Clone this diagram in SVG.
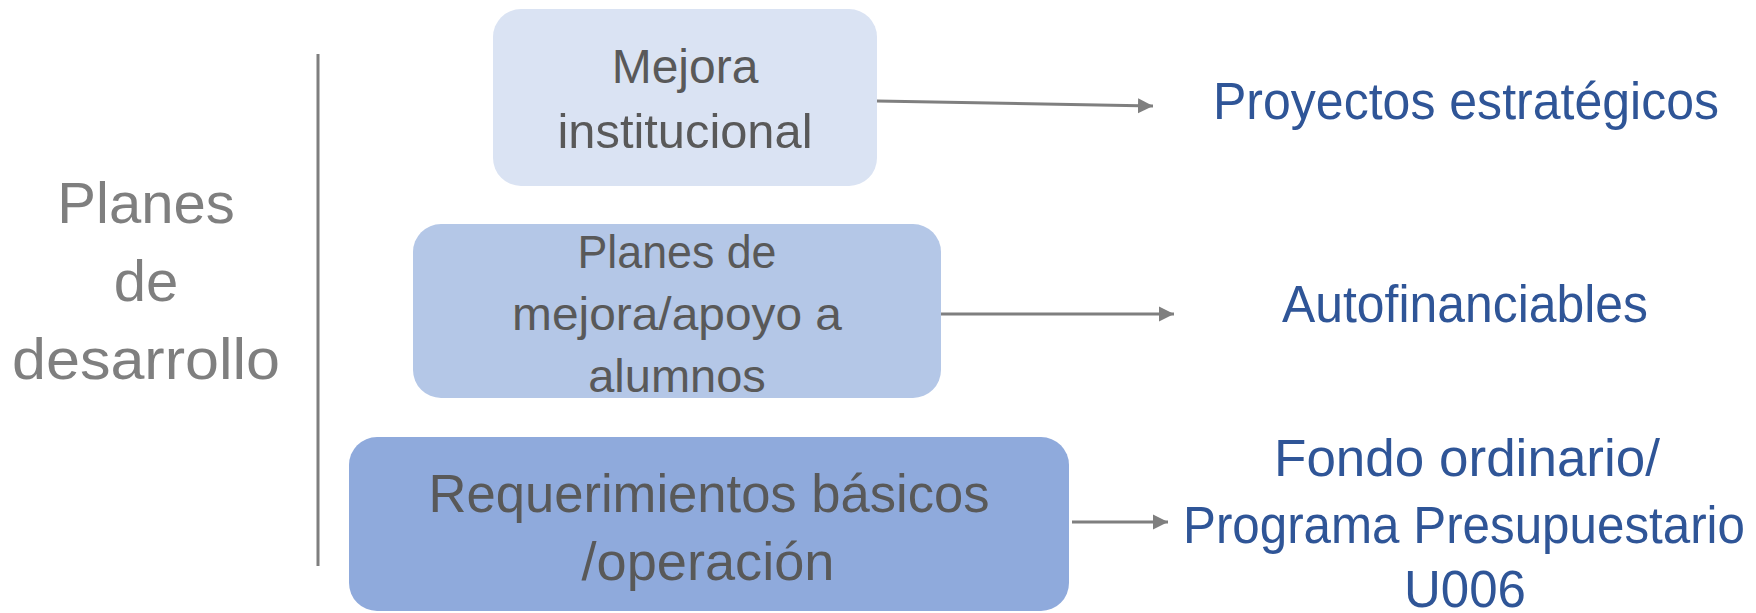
<svg xmlns="http://www.w3.org/2000/svg" width="1756" height="613" viewBox="0 0 1756 613">
<style>
.box-text{font-family:"Liberation Sans",Arial,sans-serif;fill:#595959;text-anchor:middle}
.blue{font-family:"Liberation Sans",Arial,sans-serif;fill:#2F5597;text-anchor:middle;font-size:51px}
.left{font-family:"Liberation Sans",Arial,sans-serif;fill:#7F7F7F;text-anchor:middle;font-size:58px}
.conn{stroke:#7F7F7F;stroke-width:3;fill:none}
</style>
<defs>
<marker id="arr" markerUnits="userSpaceOnUse" markerWidth="16" markerHeight="16" viewBox="0 0 16 16" refX="15" refY="8" orient="auto">
<path d="M0,0.5 L15,8 L0,15.5 Z" fill="#7F7F7F"/>
</marker>
</defs>
<rect width="1756" height="613" fill="#FFFFFF"/>
<g id="label-planes">
<text class="left" x="146" y="223">Planes</text>
<text class="left" x="146" y="301">de</text>
<text class="left" x="146" y="379" textLength="268" lengthAdjust="spacingAndGlyphs">desarrollo</text>
</g>
<g id="divider">
<line x1="318" y1="54" x2="318" y2="566" stroke="#7F7F7F" stroke-width="3"/>
</g>
<g id="node-mejora">
<rect x="493" y="9" width="384" height="177" rx="28" fill="#DAE3F3"/>
<text class="box-text" x="685" y="83" font-size="48">Mejora</text>
<text class="box-text" x="685" y="148" font-size="48" textLength="255" lengthAdjust="spacingAndGlyphs">institucional</text>
</g>
<g id="node-planes">
<rect x="413" y="224" width="528" height="174" rx="28" fill="#B4C7E7"/>
<text class="box-text" x="677" y="268" font-size="47" textLength="199" lengthAdjust="spacingAndGlyphs">Planes de</text>
<text class="box-text" x="677" y="330" font-size="47" textLength="330" lengthAdjust="spacingAndGlyphs">mejora/apoyo a</text>
<text class="box-text" x="677" y="392" font-size="47">alumnos</text>
</g>
<g id="node-requerimientos">
<rect x="349" y="437" width="720" height="174" rx="28" fill="#8FAADC"/>
<text class="box-text" x="709" y="512" font-size="53" textLength="561" lengthAdjust="spacingAndGlyphs">Requerimientos básicos</text>
<text class="box-text" x="708" y="580" font-size="53" textLength="253" lengthAdjust="spacingAndGlyphs">/operación</text>
</g>
<g id="target-proyectos">
<text class="blue" x="1466" y="119" textLength="506" lengthAdjust="spacingAndGlyphs">Proyectos estratégicos</text>
</g>
<g id="target-auto">
<text class="blue" x="1465" y="322" textLength="366" lengthAdjust="spacingAndGlyphs">Autofinanciables</text>
</g>
<g id="target-fondo">
<text class="blue" x="1467" y="476" textLength="386" lengthAdjust="spacingAndGlyphs">Fondo ordinario/</text>
<text class="blue" x="1464" y="543" textLength="562" lengthAdjust="spacingAndGlyphs">Programa Presupuestario</text>
<text class="blue" x="1465" y="607" font-size="50">U006</text>
</g>
<g id="connectors">
<line class="conn" x1="877" y1="101" x2="1153" y2="106" marker-end="url(#arr)"/>
<line class="conn" x1="941" y1="314" x2="1174" y2="314" marker-end="url(#arr)"/>
<line class="conn" x1="1072" y1="522" x2="1168" y2="522" marker-end="url(#arr)"/>
</g>
</svg>
